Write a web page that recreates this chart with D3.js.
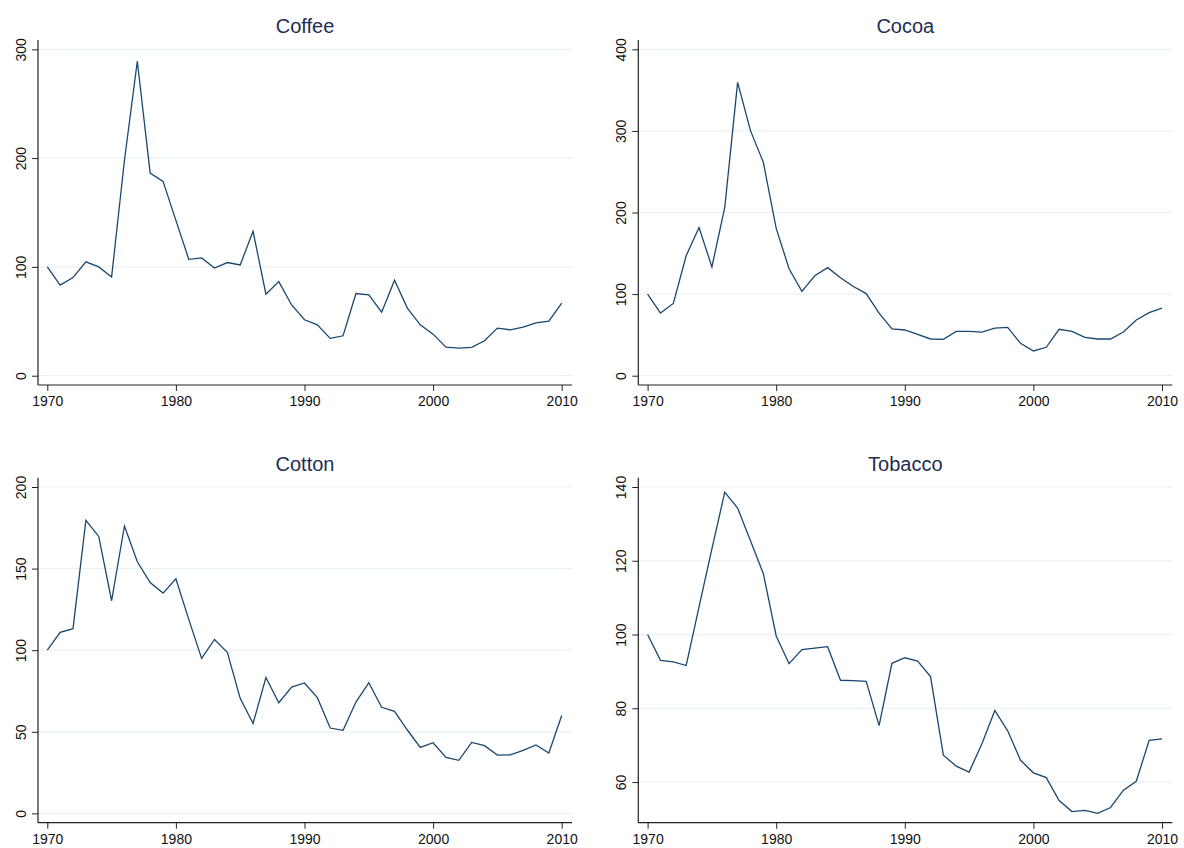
<!DOCTYPE html>
<html>
<head>
<meta charset="utf-8">
<script src="https://cdn.jsdelivr.net/npm/d3@7"></script>
<style>
  body { margin: 0; background: #fff; }
  svg { display: block; font-family: "Liberation Sans", Arial, sans-serif; }
</style>
</head>
<body>
<div id="chart"></div>
<script>
// index values, 1970 = 100
const years = d3.range(1970, 2011);

const coffee = [100, 83.2, 90.2, 104.6, 100, 90.8, 198, 289, 186.2, 178.6,
    142.8, 107, 108.3, 99, 104, 101.8, 132.7, 75, 86.5, 65,
    51.4, 46.8, 34.3, 36.7, 75.5, 74.3, 58.4, 87.8, 62.1, 46.8,
    38.2, 26.3, 25.4, 26, 32.1, 43.7, 42.2, 44.7, 48.6, 50.2, 66.7];
const cocoa = [100, 76.7, 88.6, 147, 181.7, 133.2, 206.3, 359.5, 300.3, 261.5,
    180.6, 131, 103.3, 122.5, 132.4, 120, 109.3, 100.6, 76.6, 57.4,
    56, 50.7, 45, 44.5, 54.3, 54.3, 53.5, 58.4, 59.2, 39.7,
    30.3, 34.8, 56.9, 54.4, 47, 45, 45, 53.6, 68.3, 77.3, 82.7];
const cotton = [100, 110.9, 113.2, 179.5, 169.7, 130.3, 176.1, 154.2, 141.5, 135,
    143.8, 118.9, 95, 106.6, 98.7, 70.5, 55.1, 83.3, 67.8, 77.4,
    79.9, 70.9, 52.3, 50.9, 68.2, 80.1, 65, 62.5, 51.1, 40.4,
    43.3, 34.3, 32.5, 43.5, 41.5, 35.7, 35.9, 38.6, 41.9, 37, 60];
const tobacco = [100, 93, 92.6, 91.6, 107.5, 123.2, 138.6, 134.3, 125.4, 116.5,
    99.6, 92.1, 95.9, 96.3, 96.7, 87.6, 87.5, 87.3, 75.3, 92.2,
    93.7, 92.8, 88.6, 67.3, 64.3, 62.7, 70.4, 79.4, 73.9, 65.9,
    62.5, 61.2, 55, 52, 52.3, 51.5, 53.1, 57.8, 60.2, 71.3, 71.7];

const titles = ["Coffee", "Cocoa", "Cotton", "Tobacco"];
const series = [coffee, cocoa, cotton, tobacco];
const yTicks = [
    [0, 100, 200, 300],
    [0, 100, 200, 300, 400],
    [0, 50, 100, 150, 200],
    [60, 80, 100, 120, 140]
];
const xTicks = [1970, 1980, 1990, 2000, 2010];

const W = 1184, H = 848;
const lineColor = "#1a476f", gridColor = "#eaf2f3", titleColor = "#1e2d53";

const svg = d3.select("#chart").append("svg")
    .attr("width", W).attr("height", H);

// panel boxes: left edge = y axis line, top = axis top, bottom = x axis line
const colX = [38, 638.3];
const rowY = [40, 477.7];
const pw = 534, ph = 345, inset = 9.3;

series.forEach(function (vals, i) {
    const left = colX[i % 2], top = rowY[Math.floor(i / 2)];
    const ticks = yTicks[i];
    const g = svg.append("g").attr("transform", `translate(${left},${top})`);

    const x = d3.scaleLinear()
        .domain([1970, 2010])
        .range([inset, inset + 514.4]);
    const y = d3.scaleLinear()
        .domain([Math.min(d3.min(vals), ticks[0]), Math.max(d3.max(vals), ticks[ticks.length - 1])])
        .range([ph - inset, inset]);

    // gridlines
    g.selectAll(".grid").data(ticks).enter().append("line")
        .attr("x1", 0).attr("x2", pw)
        .attr("y1", d => y(d)).attr("y2", d => y(d))
        .attr("stroke", gridColor).attr("stroke-width", 1.2);

    // y axis
    const ya = g.append("g").call(d3.axisLeft(y).tickValues(ticks).tickSize(6).tickFormat(d3.format("d")));
    ya.select(".domain").remove();
    ya.selectAll("line").attr("stroke", "#222");
    ya.selectAll("text")
        .attr("x", null).attr("dy", null)
        .attr("transform", "translate(-12.5,0) rotate(-90)")
        .attr("text-anchor", "middle")
        .style("font-size", "14px").attr("fill", "#111");
    g.append("line").attr("x1", 0).attr("x2", 0).attr("y1", 0).attr("y2", ph)
        .attr("stroke", "#222").attr("stroke-width", 1.2);

    // x axis
    const xa = g.append("g").attr("transform", `translate(0,${ph})`)
        .call(d3.axisBottom(x).tickValues(xTicks).tickSize(6).tickPadding(5).tickFormat(d3.format("d")));
    xa.select(".domain").remove();
    xa.selectAll("line").attr("stroke", "#222");
    xa.selectAll("text").style("font-size", "14px").attr("fill", "#111");
    g.append("line").attr("x1", 0).attr("x2", pw).attr("y1", ph).attr("y2", ph)
        .attr("stroke", "#222").attr("stroke-width", 1.2);

    // series line
    g.append("path")
        .datum(vals)
        .attr("fill", "none")
        .attr("stroke", lineColor)
        .attr("stroke-width", 1.3)
        .attr("stroke-linejoin", "miter")
        .attr("d", d3.line().x((d, j) => x(years[j])).y(d => y(d)));

    // title
    g.append("text")
        .attr("x", pw / 2).attr("y", -7)
        .attr("text-anchor", "middle")
        .style("font-size", "20px")
        .attr("fill", titleColor)
        .text(titles[i]);
});
</script>
</body>
</html>
